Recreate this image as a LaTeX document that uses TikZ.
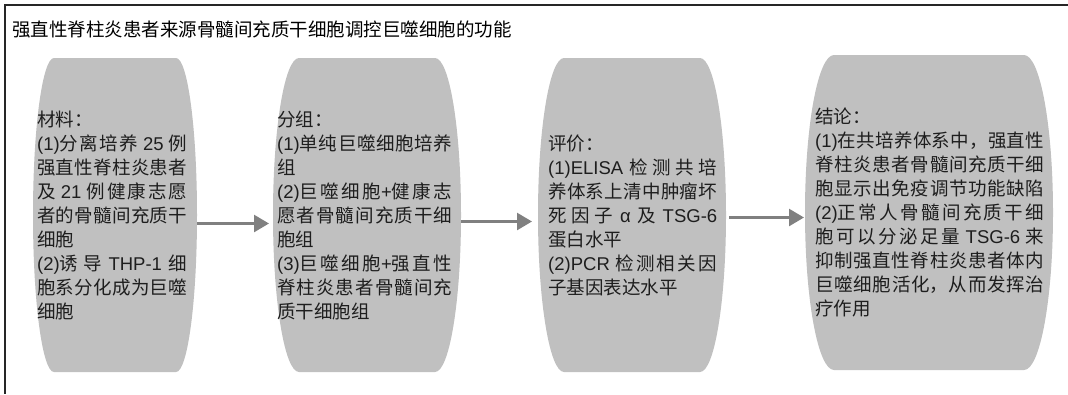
\documentclass[tikz,border=0pt]{standalone}
\usepackage{fontspec}
\setmainfont{Noto Sans CJK SC}
\newfontfamily\ltfont{Liberation Sans}
\newcommand\lat[1]{{\ltfont #1}}
\XeTeXlinebreaklocale "zh"
\XeTeXlinebreakskip=0pt plus 4pt
\usetikzlibrary{arrows.meta}
\definecolor{boxfill}{HTML}{C0C0C0}
\definecolor{txtgray}{HTML}{1E1E1E}
\definecolor{arrgray}{HTML}{808080}
\newcommand\barrel[6]{% name, cx, top, bottom, half flat width, half max width
  \pgfmathsetmacro\bcx{#2}\pgfmathsetmacro\bt{#3}\pgfmathsetmacro\bb{#4}%
  \pgfmathsetmacro\bhf{#5}\pgfmathsetmacro\bhm{#6}%
  \pgfmathsetmacro\bmid{(\bt+\bb)/2}\pgfmathsetmacro\bhh{(\bb-\bt)/2}%
  \pgfmathsetmacro\bk{0.552*(\bhm-\bhf)}%
  \fill[boxfill] ({\bcx-\bhf},\bt) -- ({\bcx+\bhf},\bt)
    .. controls ({\bcx+\bhf+\bk},\bt) and ({\bcx+\bhm},{\bt+0.448*\bhh}) .. ({\bcx+\bhm},\bmid)
    .. controls ({\bcx+\bhm},{\bb-0.448*\bhh}) and ({\bcx+\bhf+\bk},\bb) .. ({\bcx+\bhf},\bb)
    -- ({\bcx-\bhf},\bb)
    .. controls ({\bcx-\bhf-\bk},\bb) and ({\bcx-\bhm},{\bb-0.448*\bhh}) .. ({\bcx-\bhm},\bmid)
    .. controls ({\bcx-\bhm},{\bt+0.448*\bhh}) and ({\bcx-\bhf-\bk},\bt) .. cycle;
  \node[boxarea, minimum width={2*\bhm*1pt}, minimum height={2*\bhh*1pt}] (#1) at (\bcx,\bmid) {};
}
\newcommand\bxfont{\fontsize{18.5}{24}\selectfont}
\tikzset{
  boxarea/.style={draw=none, fill=none, inner sep=0pt, outer sep=0pt, rectangle},
  boxtext/.style={anchor=west, inner sep=0pt, align=justify, text=txtgray,
    font=\bxfont},
  conn/.style={draw=arrgray, line width=2.5pt, -{Triangle[length=15pt,width=17pt]}},
}
\tolerance=3000
\begin{document}
\begin{tikzpicture}[x=1pt,y=-1pt]
\useasboundingbox (0,0) rectangle (1068,394);
\fill[white] (0,0) rectangle (1068,394);
\draw[line width=1.3pt, black!85] (1068,5) -- (5,5) -- (5,394);
\node[anchor=west, inner sep=0pt, font={\fontsize{18.5}{20}\selectfont}] (title) at (12,30)
  {强直性脊柱炎患者来源骨髓间充质干细胞调控巨噬细胞的功能};

\barrel{b1}{115}{58}{372}{61}{82}
\barrel{b2}{367}{58}{372}{68}{94}
\barrel{b3}{632}{58}{372}{68}{94}
\barrel{b4}{929}{55}{370}{95}{124}

\node[boxtext, text width=150pt] (t1) at (37,215) {\bxfont 材料：\\
\lat{(1)}分离培养 \lat{25} 例\linebreak
强直性脊柱炎患者\linebreak
及 \lat{21} 例健康志愿\linebreak
者的骨髓间充质干\linebreak
细胞\\
\lat{(2)}诱导 \lat{THP-1} 细\linebreak
胞系分化成为巨噬\linebreak
细胞\par};

\node[boxtext, text width=175pt] (t2) at (277,215) {\bxfont 分组：\\
\lat{(1)}单纯巨噬细胞培养\linebreak
组\\
\lat{(2)}巨噬细胞\lat{+}健康志\linebreak
愿者骨髓间充质干细\linebreak
胞组\\
\lat{(3)}巨噬细胞\lat{+}强直性\linebreak
脊柱炎患者骨髓间充\linebreak
质干细胞组\par};

\node[boxtext, text width=169pt] (t3) at (548,215) {\bxfont 评价：\\
\lat{(1)ELISA} 检测共培\linebreak
养体系上清中肿瘤坏\linebreak
死因子 \lat{α} 及 \lat{TSG-6}\linebreak
蛋白水平\\
\lat{(2)PCR} 检测相关因\linebreak
子基因表达水平\par};

\node[boxtext, text width=229pt] (t4) at (815,212) {\bxfont 结论：\\
\lat{(1)}在共培养体系中，强直性\linebreak
脊柱炎患者骨髓间充质干细\linebreak
胞显示出免疫调节功能缺陷\linebreak
\lat{(2)}正常人骨髓间充质干细\linebreak
胞可以分泌足量 \lat{TSG-6} 来\linebreak
抑制强直性脊柱炎患者体内\linebreak
巨噬细胞活化，从而发挥治\linebreak
疗作用\par};

\draw[conn, shorten >=4pt] ([yshift=-8.5pt]b1.east) -- ([yshift=-8.5pt]b1.east -| b2.west);
\draw[conn, shorten >=6pt] ([yshift=-6.5pt]b2.east) -- ([yshift=-6.5pt]b2.east -| b3.west);
\draw[conn, shorten <=3pt, shorten >=1pt] ([yshift=-2.5pt]b3.east) -- ([yshift=-2.5pt]b3.east -| b4.west);
\end{tikzpicture}
\end{document}
